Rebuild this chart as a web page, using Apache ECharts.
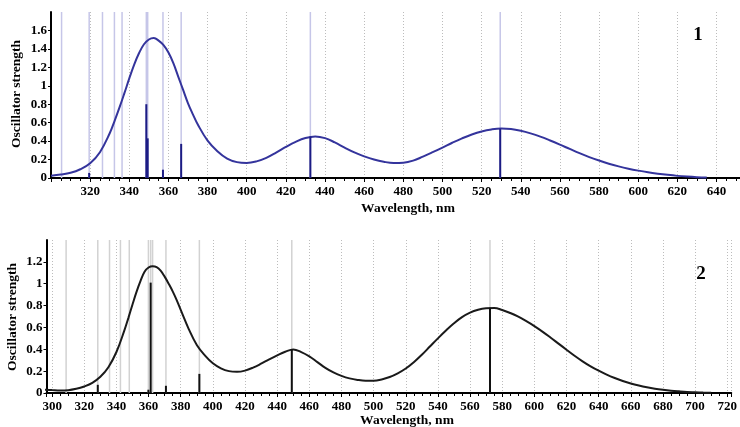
<!DOCTYPE html>
<html>
<head>
<meta charset="utf-8">
<script src="https://cdn.jsdelivr.net/npm/echarts@6/dist/echarts.min.js"></script>
<style>
  html, body { margin: 0; padding: 0; background: #fff; }
  #chart { width: 740px; height: 427px; }
</style>
</head>
<body>
<div id="chart"></div>
<script>
// Compound 1: simulated absorption envelope (5 nm sampling, 2.5 nm around the main band)
const spec1Nm = [300, 305, 310, 315, 320, 325, 330, 332.5, 335, 337.5, 340, 342.5, 345, 347.5, 350, 352.5, 355, 357.5, 360, 362.5, 365, 367.5, 370,
  372.5, 375, 380, 385, 390, 395,
  400, 405, 410, 415, 420, 425, 430, 435, 440, 445, 450, 455, 460, 465, 470, 475, 480, 485, 490, 495,
  500, 505, 510, 515, 520, 525, 530, 535, 540, 545, 550, 555, 560, 565, 570, 575, 580, 585, 590, 595,
  600, 605, 610, 615, 620, 625, 630, 635];
const spec1F = [0.025, 0.037, 0.056, 0.095, 0.16, 0.28, 0.485, 0.62, 0.765, 0.92, 1.08, 1.23, 1.355, 1.45, 1.502, 1.517, 1.49, 1.44, 1.36, 1.245, 1.10, 0.955, 0.81,
  0.69, 0.58, 0.405, 0.29, 0.21, 0.172,
  0.163, 0.18, 0.218, 0.275, 0.337, 0.392, 0.433, 0.45, 0.432, 0.386, 0.33, 0.278, 0.235, 0.20, 0.176, 0.163, 0.166, 0.188, 0.232, 0.28,
  0.33, 0.382, 0.43, 0.472, 0.505, 0.527, 0.537, 0.531, 0.512, 0.484, 0.449, 0.407, 0.362, 0.315, 0.269, 0.227, 0.189, 0.155, 0.126, 0.101,
  0.08, 0.062, 0.047, 0.034, 0.023, 0.015, 0.009, 0.005];
// Compound 1: individual transitions (wavelength, oscillator strength)
const trans1Nm = [305.4, 319.5, 326.3, 332.4, 336.3, 348.7, 349.4, 357.2, 366.5, 432.5, 529.5];
const trans1F  = [0, 0.055, 0, 0, 0, 0.80, 0.43, 0.09, 0.37, 0.45, 0.535];

// Compound 2: simulated absorption envelope (5 nm sampling, 2.5 nm around the main band)
const spec2Nm = [295, 300, 305, 310, 315, 320, 325, 330, 335, 340, 345, 347.5, 350, 352.5, 355, 357.5, 360, 362.5, 365, 367.5, 370, 372.5, 375,
  377.5, 380, 385, 390, 395,
  400, 405, 410, 415, 420, 425, 430, 435, 440, 445, 450, 455, 460, 465, 470, 475, 480, 485, 490, 495,
  500, 505, 510, 515, 520, 525, 530, 535, 540, 545, 550, 555, 560, 565, 570, 575, 580, 585, 590, 595,
  600, 605, 610, 615, 620, 625, 630, 635, 640, 645, 650, 655, 660, 665, 670, 675, 680, 685, 690, 695,
  700, 705, 710];
const spec2F = [0.031, 0.027, 0.024, 0.026, 0.038, 0.06, 0.093, 0.148, 0.236, 0.375, 0.575, 0.69, 0.81, 0.925, 1.025, 1.11, 1.148, 1.16, 1.152, 1.12, 1.065, 1.0, 0.93,
  0.85, 0.76, 0.585, 0.44, 0.345,
  0.272, 0.226, 0.20, 0.194, 0.205, 0.232, 0.268, 0.308, 0.345, 0.377, 0.398, 0.374, 0.335, 0.283, 0.23, 0.188, 0.157, 0.134, 0.12, 0.113,
  0.113, 0.124, 0.146, 0.18, 0.224, 0.282, 0.35, 0.425, 0.50, 0.572, 0.638, 0.694, 0.735, 0.761, 0.775, 0.778, 0.76, 0.732, 0.698, 0.657,
  0.612, 0.562, 0.508, 0.452, 0.396, 0.341, 0.29, 0.244, 0.204, 0.168, 0.137, 0.11, 0.087, 0.068, 0.052, 0.039, 0.029, 0.021, 0.015, 0.01,
  0.007, 0.004, 0.002];
// Compound 2: individual transitions
const trans2Nm = [308.7, 328.4, 335.7, 342.5, 348.0, 359.9, 361.3, 362.5, 370.8, 391.6, 449.1, 572.4];
const trans2F  = [0, 0.075, 0, 0, 0, 0.03, 1.01, 0, 0.066, 0.175, 0.40, 0.78];

// Axis ranges and tick step
const xRange1 = [300, 652];
const xRange2 = [296.5, 722.5];
const yMax1 = 1.8;
const yMax2 = 1.4;
const xStep = 20;
const yStep = 0.2;

const SERIF = '"Liberation Serif", "Times New Roman", serif';

function pairs(xs, ys) { return xs.map((x, i) => [x, ys[i]]); }

function xAxisDef(gridIndex, range) {
  return {
    type: 'value', gridIndex, min: range[0], max: range[1],
    minInterval: xStep, maxInterval: xStep, splitNumber: 20,
    axisLine: { lineStyle: { color: '#000', width: 2 } },
    axisTick: { show: true, length: 4, lineStyle: { color: '#000', width: 1 } },
    minorTick: { show: true, splitNumber: 4, length: 3, lineStyle: { color: '#000', width: 1 } },
    axisLabel: {
      showMinLabel: false, showMaxLabel: false, margin: 7,
      color: '#000', fontFamily: SERIF, fontWeight: 'bold', fontSize: 13
    },
    splitLine: { show: true, lineStyle: { color: '#bcbcbc', type: [1, 2], width: 1 } }
  };
}

function yAxisDef(gridIndex, max) {
  return {
    type: 'value', gridIndex, min: 0, max: max, interval: yStep,
    axisLine: { show: true, lineStyle: { color: '#000', width: 2 } },
    axisTick: { show: true, length: 3, lineStyle: { color: '#000' } },
    axisLabel: {
      showMaxLabel: false, margin: 4,
      color: '#000', fontFamily: SERIF, fontWeight: 'bold', fontSize: 13
    },
    splitLine: { show: false }
  };
}

// Full-height marker line at each transition wavelength
function transitionLines(axisIndex, nm, top, color) {
  return {
    type: 'custom', xAxisIndex: axisIndex, yAxisIndex: axisIndex, silent: true, z: 1,
    data: nm.map(v => [v]),
    encode: { x: 0 },
    renderItem: (params, api) => {
      const a = api.coord([api.value(0), 0]);
      const b = api.coord([api.value(0), top]);
      return { type: 'line', shape: { x1: a[0], y1: a[1], x2: b[0], y2: b[1] },
               style: { stroke: color, lineWidth: 1.5 } };
    }
  };
}

// Stick whose height is the oscillator strength
function transitionSticks(axisIndex, nm, f, color) {
  return {
    type: 'custom', xAxisIndex: axisIndex, yAxisIndex: axisIndex, silent: true, z: 4,
    data: pairs(nm, f).filter(p => p[1] > 0),
    encode: { x: 0, y: 1 },
    renderItem: (params, api) => {
      const a = api.coord([api.value(0), 0]);
      const b = api.coord([api.value(0), api.value(1)]);
      return { type: 'line', shape: { x1: a[0], y1: a[1], x2: b[0], y2: b[1] },
               style: { stroke: color, lineWidth: 2 } };
    }
  };
}

function envelope(axisIndex, nm, f, color) {
  return {
    type: 'line', xAxisIndex: axisIndex, yAxisIndex: axisIndex, z: 3,
    data: pairs(nm, f), smooth: 0.4, showSymbol: false, silent: true,
    lineStyle: { color, width: 2 }
  };
}

function panelTag(text, cx, cy) {
  return {
    type: 'group', z: 100,
    children: [
      { type: 'rect', shape: { x: cx - 22, y: cy - 23, width: 44, height: 46 }, style: { fill: '#fff' } },
      { type: 'text', x: cx, y: cy,
        style: { text, fill: '#000', font: 'bold 19px ' + SERIF, textAlign: 'center', textVerticalAlign: 'middle' } }
    ]
  };
}

function axisTitle(text, x, y, rotate) {
  return {
    type: 'text', x, y, rotation: rotate ? Math.PI / 2 : 0, z: 100,
    style: { text, fill: '#000', font: 'bold 13.5px ' + SERIF, textAlign: 'center', textVerticalAlign: 'middle' }
  };
}

const chart = echarts.init(document.getElementById('chart'), null, { renderer: 'canvas' });
chart.setOption({
  backgroundColor: '#fff',
  animation: false,
  grid: [
    { left: 51, top: 12, right: 0, height: 166 },
    { left: 46.5, top: 240, right: 0, height: 153 }
  ],
  xAxis: [xAxisDef(0, xRange1), xAxisDef(1, xRange2)],
  yAxis: [yAxisDef(0, yMax1), yAxisDef(1, yMax2)],
  series: [
    transitionLines(0, trans1Nm, yMax1, '#c6c6e8'),
    envelope(0, spec1Nm, spec1F, '#34349c'),
    transitionSticks(0, trans1Nm, trans1F, '#1c1c84'),
    transitionLines(1, trans2Nm, yMax2, '#d2d2d2'),
    envelope(1, spec2Nm, spec2F, '#1a1a1a'),
    transitionSticks(1, trans2Nm, trans2F, '#111')
  ],
  graphic: [
    panelTag('1', 698, 35),
    panelTag('2', 701, 274),
    axisTitle('Oscillator strength', 17, 94, true),
    axisTitle('Wavelength, nm', 408, 209, false),
    axisTitle('Oscillator strength', 13, 317, true),
    axisTitle('Wavelength, nm', 407, 421, false)
  ]
});
</script>
</body>
</html>
